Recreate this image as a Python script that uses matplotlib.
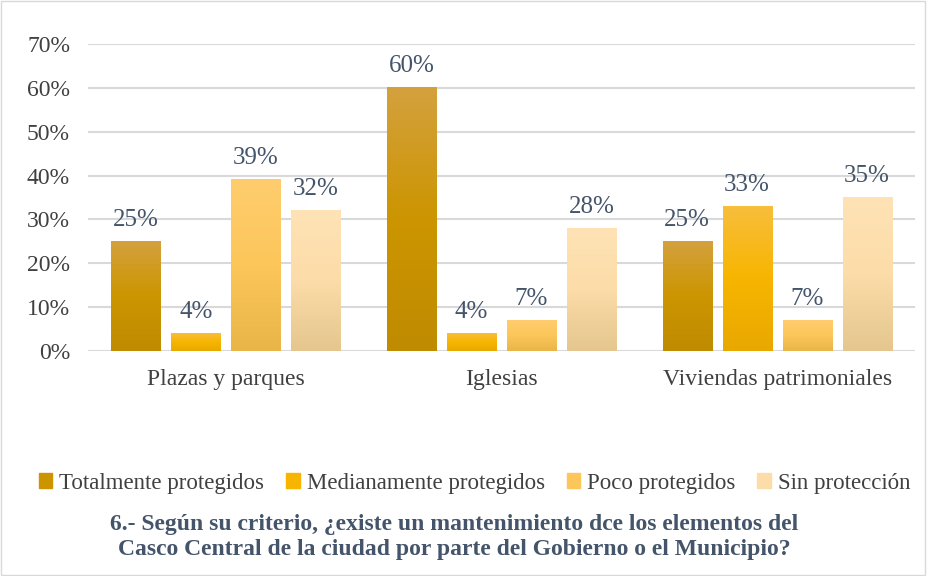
import matplotlib.pyplot as plt
import numpy as np
from matplotlib.colors import LinearSegmentedColormap
from matplotlib.patches import Rectangle

plt.rcParams['font.family'] = ['Liberation Serif', 'DejaVu Serif']

# Data
categories = ['Plazas y parques', 'Iglesias', 'Viviendas patrimoniales']
series = ['Totalmente protegidos', 'Medianamente protegidos', 'Poco protegidos', 'Sin protección']
totalmente = [25, 60, 25]
medianamente = [4, 4, 33]
poco = [39, 7, 7]
sin_proteccion = [32, 28, 35]
values = [totalmente, medianamente, poco, sin_proteccion]

# gradient colours (top, middle, bottom)
grads = [
    ['#D4A13E', '#CC9500', '#BF8B00'],
    ['#F7BE3C', '#F7B500', '#E9A800'],
    ['#FFCD6E', '#FCC65A', '#E9B548'],
    ['#FFE3B6', '#FCDCA8', '#E4C68E'],
]

fig = plt.figure(figsize=(9.27, 5.76), dpi=100)
ax = fig.add_axes([0.095, 0.3906, 0.892, 0.533])

x = np.arange(len(categories))
step = 0.2176
width = 0.178
label_color = '#44546A'

grad_img = np.linspace(0, 1, 256).reshape(-1, 1)
for i, s in enumerate(series):
    cmap = LinearSegmentedColormap.from_list(s, grads[i][::-1])
    offs = (i - 1.5) * step
    for xi, v in zip(x, values[i]):
        left = xi + offs - width / 2
        ax.imshow(grad_img, cmap=cmap, origin='lower', aspect='auto',
                  extent=(left, left + width, 0, v / 100), zorder=3,
                  interpolation='bilinear')
        ax.text(xi + offs, v / 100 + 0.024, f'{v}%', ha='center', va='bottom',
                fontsize=18, color=label_color, zorder=4)

ax.set_xlim(-0.5, 2.5)
ax.set_ylim(0, 0.7)
ticks = np.arange(0, 0.71, 0.1)
ax.set_yticks(ticks)
ax.set_yticklabels([f'{int(round(t * 100))}%' for t in ticks])
ax.set_xticks(x)
ax.set_xticklabels(categories)
ax.tick_params(axis='both', length=0, labelsize=17, colors='#404040')
ax.tick_params(axis='x', pad=13)
ax.tick_params(axis='y', pad=13)
ax.grid(axis='y', color='#D9D9D9', linewidth=1.5, zorder=0)
ax.set_axisbelow(True)
for sp in ax.spines.values():
    sp.set_visible(False)

# Legend
handles = [Rectangle((0, 0), 1, 1, color=g[1]) for g in grads]
fig.legend(handles, series, loc='center', bbox_to_anchor=(0.512, 1 - 483 / 576),
           ncol=4, frameon=False, fontsize=16.5, handlelength=0.6, handleheight=0.6,
           handletextpad=0.3, columnspacing=0.95, labelcolor='#404040')

# Title
fig.text(0.49, 1 - 537 / 576,
         '6.- Según su criterio, ¿existe un mantenimiento dce los elementos del\n'
         'Casco Central de la ciudad por parte del Gobierno o el Municipio?',
         ha='center', va='center', fontsize=17, fontweight='bold',
         color=label_color, linespacing=1.3)

# outer border
fig.patches.append(Rectangle((0.001, 0.001), 0.997, 0.997, transform=fig.transFigure,
                             fill=False, edgecolor='#D9D9D9', linewidth=1))

fig.savefig('out.png', dpi=100)
